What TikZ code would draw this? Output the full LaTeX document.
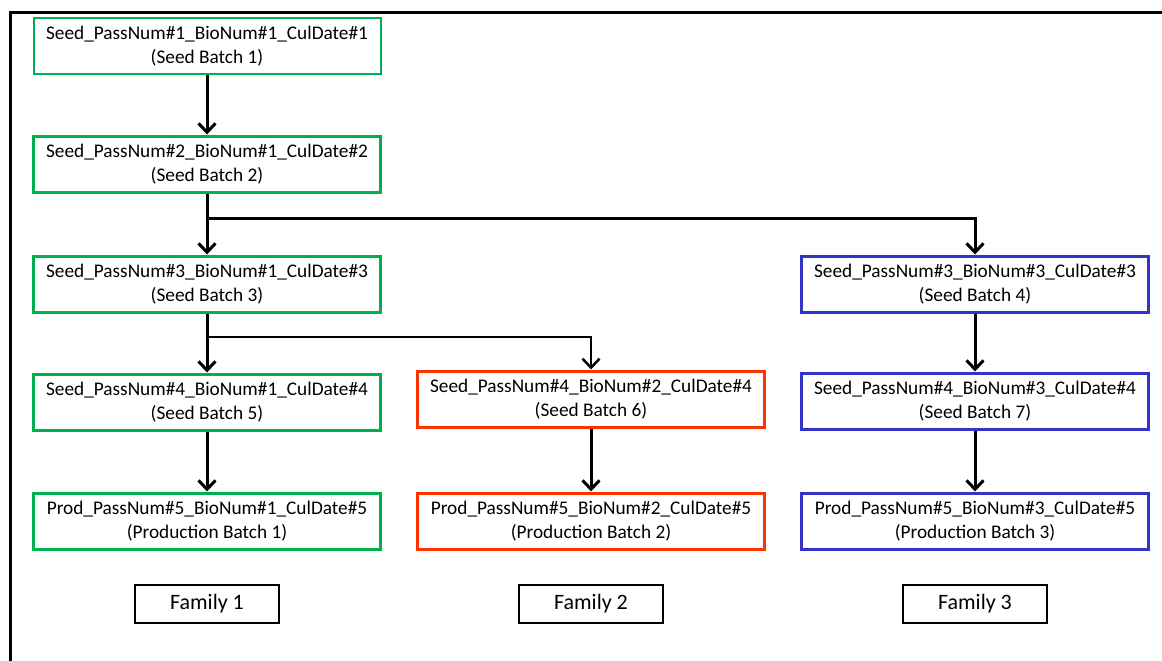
\documentclass[tikz,border=0pt]{standalone}
\usepackage{fontspec}
\setmainfont{Carlito}
\usetikzlibrary{arrows.meta}
\definecolor{cgreen}{RGB}{0,176,80}
\definecolor{cred}{RGB}{255,51,0}
\definecolor{cblue}{RGB}{51,51,204}
\begin{document}
\begin{tikzpicture}[x=1pt,y=-1pt,
  box/.style={draw,line width=3pt,minimum width=347pt,minimum height=56pt,inner sep=0pt,align=center,
    font=\fontsize{19.3}{24}\selectfont},
  gbox/.style={box,draw=cgreen},
  rbox/.style={box,draw=cred},
  bbox/.style={box,draw=cblue},
  fam/.style={draw=black,line width=2.5pt,minimum width=144pt,minimum height=38pt,inner sep=0pt,
    font=\fontsize{22}{24}\selectfont},
  arr/.style={line width=3pt,-{Straight Barb[length=9pt,width=17pt,line width=3pt]}},
  arrthin/.style={line width=2.2pt,-{Straight Barb[length=9pt,width=17pt,line width=2.5pt]}}]
\useasboundingbox (0,0) rectangle (1162,661);
\fill[white] (0,0) rectangle (1162,661);
\draw[line width=3pt] (10,661) -- (10,12.5) -- (1162,12.5);
\node[gbox,line width=2pt] (b1) at (207,46) {Seed\_PassNum\#1\_BioNum\#1\_CulDate\#1\\(Seed Batch 1)};
\node[gbox] (b2) at (207,164) {Seed\_PassNum\#2\_BioNum\#1\_CulDate\#2\\(Seed Batch 2)};
\node[gbox] (b3) at (207,284) {Seed\_PassNum\#3\_BioNum\#1\_CulDate\#3\\(Seed Batch 3)};
\node[gbox] (b5) at (207,402) {Seed\_PassNum\#4\_BioNum\#1\_CulDate\#4\\(Seed Batch 5)};
\node[gbox] (p1) at (207,521) {Prod\_PassNum\#5\_BioNum\#1\_CulDate\#5\\(Production Batch 1)};
\node[rbox] (b6) at (591,399) {Seed\_PassNum\#4\_BioNum\#2\_CulDate\#4\\(Seed Batch 6)};
\node[rbox] (p2) at (591,521) {Prod\_PassNum\#5\_BioNum\#2\_CulDate\#5\\(Production Batch 2)};
\node[bbox] (b4) at (975,284) {Seed\_PassNum\#3\_BioNum\#3\_CulDate\#3\\(Seed Batch 4)};
\node[bbox] (b7) at (975,401) {Seed\_PassNum\#4\_BioNum\#3\_CulDate\#4\\(Seed Batch 7)};
\node[bbox] (p3) at (975,521) {Prod\_PassNum\#5\_BioNum\#3\_CulDate\#5\\(Production Batch 3)};
\node[fam] (f1) at (207,604) {Family 1};
\node[fam] (f2) at (591,604) {Family 2};
\node[fam] (f3) at (975,604) {Family 3};
\coordinate (j1) at (207,218);
\coordinate (j2) at (207,337);
\draw[arr] (b1) -- (b2);
\draw[arr] (b2) -- (b3);
\draw[arr] (j1) -| (b4);
\draw[arr] (b3) -- (b5);
\draw[arrthin] (j2) -| (b6);
\draw[arr] (b5) -- (p1);
\draw[arr] (b6) -- (p2);
\draw[arr] (b4) -- (b7);
\draw[arr] (b7) -- (p3);
\end{tikzpicture}
\end{document}
